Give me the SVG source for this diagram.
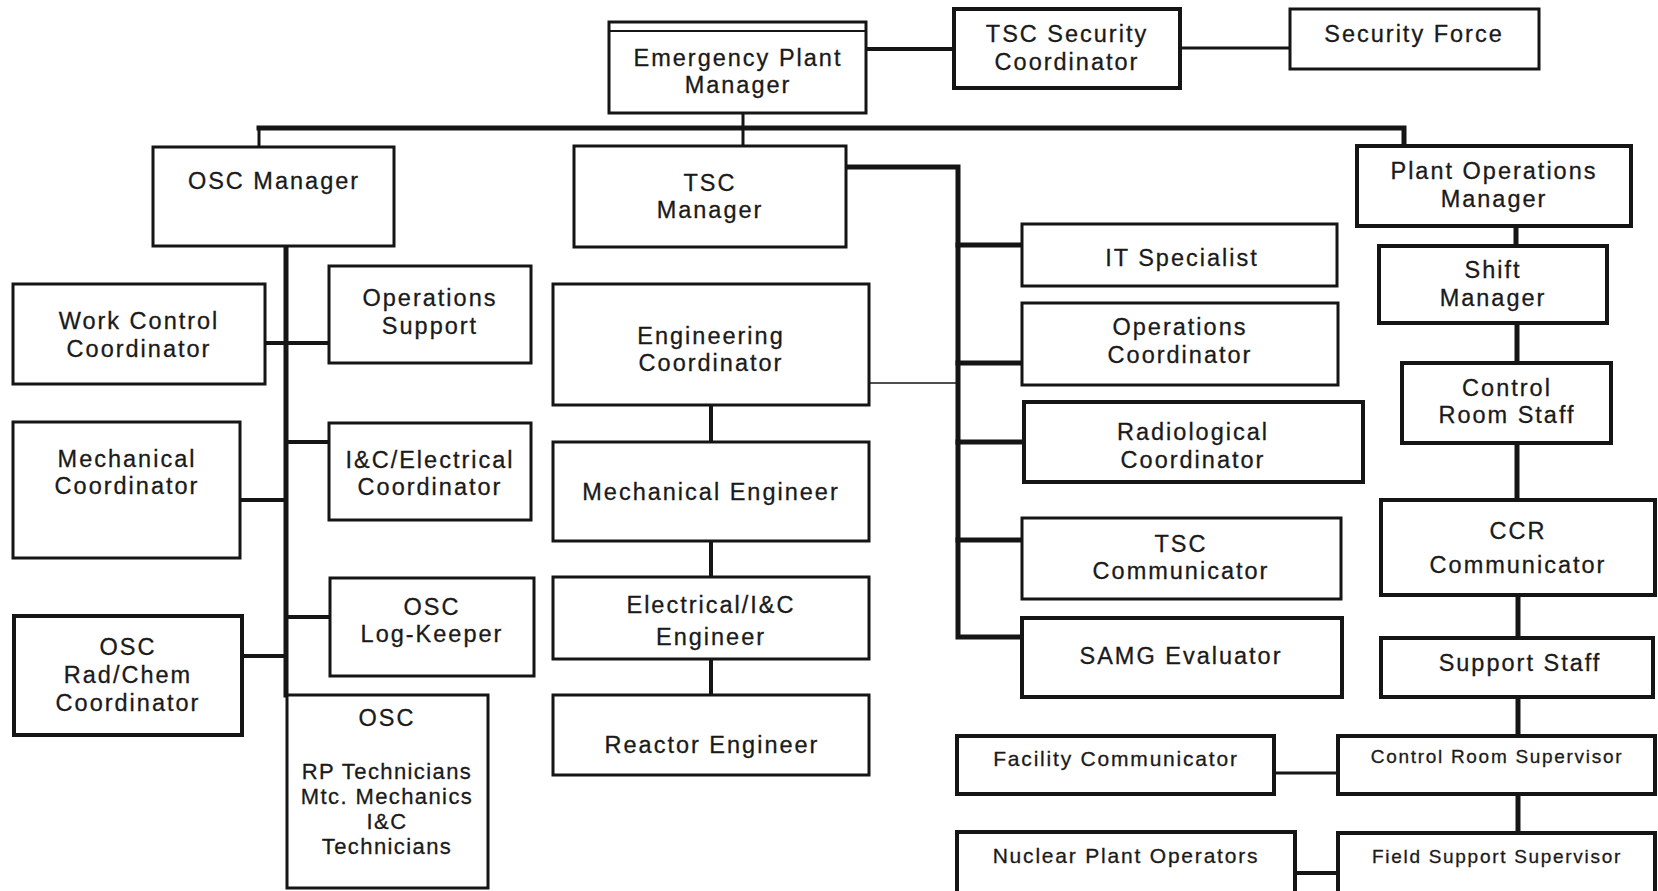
<svg xmlns="http://www.w3.org/2000/svg" width="1658" height="891" viewBox="0 0 1658 891">
<style>
.box{fill:#fff;stroke:#151515;stroke-width:3}
.bx4{fill:#fff;stroke:#151515;stroke-width:4}
.t{font-family:"Liberation Sans",Arial,sans-serif;font-size:23.5px;letter-spacing:2px;text-anchor:middle;fill:#1a1a1a;stroke:#1a1a1a;stroke-width:0.3px}
.s{font-size:19px;letter-spacing:1.7px}
.m{font-size:21px;letter-spacing:1.8px}
.g{font-size:22px;letter-spacing:1.4px}
.c{fill:none;stroke:#151515;stroke-linecap:square;stroke-linejoin:miter}
.w5{stroke-width:5}
.w4{stroke-width:4}
.w3{stroke-width:3}
.w1{stroke-width:1.5}
</style>
<rect width="1658" height="891" fill="#fff"/>
<g id="connectors">
<path class="c w5" d="M259,128 H1404 V146"/>
<path class="c w3" d="M259,128 V147"/>
<path class="c w3" d="M743,113 V146"/>
<path class="c w4" d="M866,49 H954"/>
<path class="c w3" d="M1180,48 H1290"/>
<path class="c w5" d="M286,246 V695"/>
<path class="c w4" d="M265,343 H329"/>
<path class="c w4" d="M286,442 H329"/>
<path class="c w4" d="M240,500 H286"/>
<path class="c w4" d="M286,617 H330"/>
<path class="c w4" d="M242,656 H286"/>
<path class="c w5" d="M846,167 H958 V637 H1022"/>
<path class="c w5" d="M958,245 H1022"/>
<path class="c w5" d="M958,363 H1022"/>
<path class="c w5" d="M958,442 H1024"/>
<path class="c w5" d="M958,540 H1022"/>
<path class="c w1" d="M869,383 H958"/>
<path class="c w4" d="M711,405 V442"/>
<path class="c w4" d="M711,541 V577"/>
<path class="c w4" d="M711,659 V695"/>
<path class="c w5" d="M1516,226 V246"/>
<path class="c w5" d="M1517,323 V363"/>
<path class="c w5" d="M1517,443 V500"/>
<path class="c w5" d="M1518,595 V638"/>
<path class="c w5" d="M1518,697 V736"/>
<path class="c w5" d="M1518,794 V833"/>
<path class="c w3" d="M1274,773 H1338"/>
<path class="c w4" d="M1295,873 H1338"/>
</g>
<g id="epm"><rect class="box" x="609" y="22" width="257" height="91"/><path class="c" stroke-width="2" d="M609,31 H866"/><text class="t" x="738" y="66">Emergency Plant</text><text class="t" x="738" y="93">Manager</text></g>
<g id="tscsec"><rect class="bx4" x="954" y="9" width="226" height="79"/><text class="t" x="1067" y="42">TSC Security</text><text class="t" x="1067" y="70">Coordinator</text></g>
<g id="secforce"><rect class="box" x="1290" y="9" width="249" height="60"/><text class="t" x="1414" y="42">Security Force</text></g>
<g id="oscmgr"><rect class="box" x="153" y="147" width="241" height="99"/><text class="t" x="274" y="189">OSC Manager</text></g>
<g id="tscmgr"><rect class="box" x="574" y="146" width="272" height="101"/><text class="t" x="710" y="191">TSC</text><text class="t" x="710" y="218">Manager</text></g>
<g id="pomgr"><rect class="bx4" x="1357" y="146" width="274" height="80"/><text class="t" x="1494" y="179">Plant Operations</text><text class="t" x="1494" y="207">Manager</text></g>
<g id="workctrl"><rect class="box" x="13" y="284" width="252" height="100"/><text class="t" x="139" y="329">Work Control</text><text class="t" x="139" y="357">Coordinator</text></g>
<g id="opssupport"><rect class="box" x="329" y="266" width="202" height="97"/><text class="t" x="430" y="306">Operations</text><text class="t" x="430" y="334">Support</text></g>
<g id="mechcoord"><rect class="box" x="13" y="422" width="227" height="136"/><text class="t" x="127" y="467">Mechanical</text><text class="t" x="127" y="494">Coordinator</text></g>
<g id="icelec"><rect class="box" x="329" y="423" width="202" height="97"/><text class="t" x="430" y="468">I&amp;C/Electrical</text><text class="t" x="430" y="495">Coordinator</text></g>
<g id="radchem"><rect class="bx4" x="14" y="616" width="228" height="119"/><text class="t" x="128" y="655">OSC</text><text class="t" x="128" y="683">Rad/Chem</text><text class="t" x="128" y="711">Coordinator</text></g>
<g id="osclog"><rect class="box" x="330" y="578" width="204" height="98"/><text class="t" x="432" y="615">OSC</text><text class="t" x="432" y="642">Log-Keeper</text></g>
<g id="oscgroup"><rect class="box" x="287" y="695" width="201" height="193"/><text class="t" x="387" y="726">OSC</text><text class="t g" x="387" y="779">RP Technicians</text><text class="t g" x="387" y="804">Mtc. Mechanics</text><text class="t g" x="387" y="829">I&amp;C</text><text class="t g" x="387" y="854">Technicians</text></g>
<g id="engcoord"><rect class="box" x="553" y="284" width="316" height="121"/><text class="t" x="711" y="344">Engineering</text><text class="t" x="711" y="371">Coordinator</text></g>
<g id="mecheng"><rect class="box" x="553" y="442" width="316" height="99"/><text class="t" x="711" y="500">Mechanical Engineer</text></g>
<g id="eleceng"><rect class="box" x="553" y="577" width="316" height="82"/><text class="t" x="711" y="613">Electrical/I&amp;C</text><text class="t" x="711" y="645">Engineer</text></g>
<g id="reactoreng"><rect class="box" x="553" y="695" width="316" height="80"/><text class="t" x="712" y="753">Reactor Engineer</text></g>
<g id="itspec"><rect class="box" x="1022" y="224" width="315" height="62"/><text class="t" x="1182" y="266">IT Specialist</text></g>
<g id="opscoord"><rect class="box" x="1022" y="303" width="316" height="82"/><text class="t" x="1180" y="335">Operations</text><text class="t" x="1180" y="363">Coordinator</text></g>
<g id="radcoord"><rect class="bx4" x="1024" y="402" width="339" height="80"/><text class="t" x="1193" y="440">Radiological</text><text class="t" x="1193" y="468">Coordinator</text></g>
<g id="tsccomm"><rect class="box" x="1022" y="518" width="319" height="81"/><text class="t" x="1181" y="552">TSC</text><text class="t" x="1181" y="579">Communicator</text></g>
<g id="samg"><rect class="bx4" x="1022" y="618" width="320" height="79"/><text class="t" x="1181" y="664">SAMG Evaluator</text></g>
<g id="shiftmgr"><rect class="bx4" x="1379" y="246" width="228" height="77"/><text class="t" x="1493" y="278">Shift</text><text class="t" x="1493" y="306">Manager</text></g>
<g id="crstaff"><rect class="bx4" x="1402" y="363" width="209" height="80"/><text class="t" x="1507" y="396">Control</text><text class="t" x="1507" y="423">Room Staff</text></g>
<g id="ccr"><rect class="bx4" x="1381" y="500" width="274" height="95"/><text class="t" x="1518" y="539">CCR</text><text class="t" x="1518" y="573">Communicator</text></g>
<g id="supportstaff"><rect class="bx4" x="1381" y="638" width="272" height="59"/><text class="t" x="1520" y="671">Support Staff</text></g>
<g id="crsup"><rect class="bx4" x="1338" y="736" width="317" height="58"/><text class="t s" x="1497" y="763">Control Room Supervisor</text></g>
<g id="fss"><rect class="bx4" x="1338" y="833" width="317" height="64"/><text class="t s" x="1497" y="863">Field Support Supervisor</text></g>
<g id="facility"><rect class="bx4" x="957" y="736" width="317" height="58"/><text class="t m" x="1116" y="766">Facility Communicator</text></g>
<g id="npo"><rect class="bx4" x="957" y="832" width="338" height="64"/><text class="t m" x="1126" y="863">Nuclear Plant Operators</text></g>
</svg>
